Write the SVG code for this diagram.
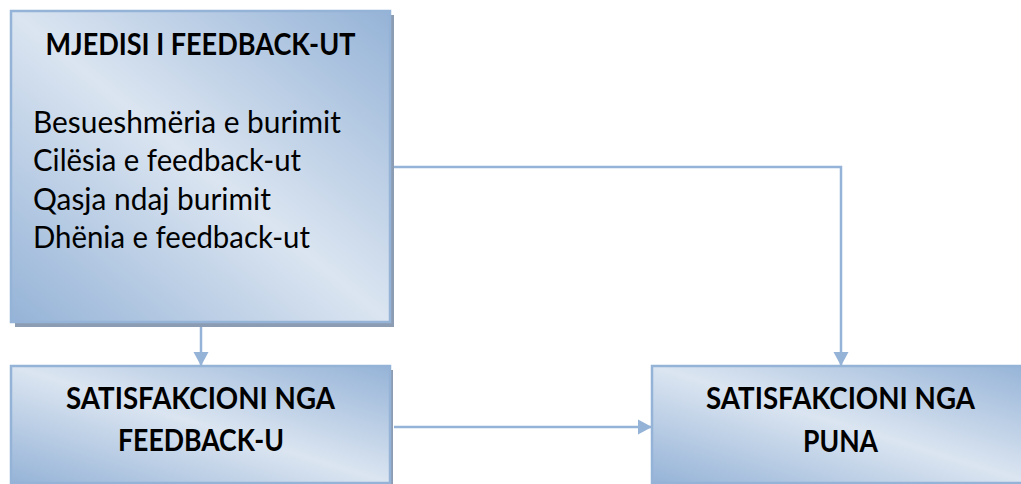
<svg xmlns="http://www.w3.org/2000/svg" width="1021" height="484" viewBox="0 0 1021 484">
  <defs>
    <linearGradient id="boxFill" x1="0" y1="1" x2="1" y2="0">
      <stop offset="0" stop-color="#95b3d7"/>
      <stop offset="0.5" stop-color="#dbe5f1"/>
      <stop offset="1" stop-color="#95b3d7"/>
    </linearGradient>
    <marker id="arrow" markerUnits="userSpaceOnUse" markerWidth="16" markerHeight="16" viewBox="0 0 14 16" refX="14" refY="8" orient="auto">
      <path d="M0,0.5 L14,8 L0,15.5 Z" fill="#95b3d7"/>
    </marker>
  </defs>
  <style>
    .shadow { fill: #8c9cb3; }
    .box { fill: url(#boxFill); stroke: #95b3d7; stroke-width: 2.5; }
    .title { font-family: Lato, "Liberation Sans", sans-serif; font-weight: bold; font-size: 30px; fill: #000; text-anchor: middle; }
    .item { font-family: Lato, "Liberation Sans", sans-serif; font-size: 31px; fill: #000; }
    .link { fill: none; stroke: #95b3d7; stroke-width: 2.5; marker-end: url(#arrow); }
  </style>

  <rect width="1021" height="484" fill="#ffffff"/>

  <!-- connectors -->
  <g id="connectors">
    <path class="link" d="M392,167 H841 V366"/>
    <path class="link" d="M201,327 V366"/>
    <path class="link" d="M394,427 H652"/>
  </g>

  <!-- feedback environment -->
  <g id="node-mjedisi">
    <rect class="shadow" x="15" y="15" width="379" height="312"/>
    <rect class="box" x="11" y="11" width="379" height="311"/>
    <text class="title" x="200.5" y="55" textLength="310" lengthAdjust="spacingAndGlyphs">MJEDISI I FEEDBACK-UT</text>
    <text class="item" x="33" y="133" textLength="308" lengthAdjust="spacingAndGlyphs">Besueshmëria e burimit</text>
    <text class="item" x="33" y="171" textLength="268" lengthAdjust="spacingAndGlyphs">Cilësia e feedback-ut</text>
    <text class="item" x="33" y="210" textLength="238" lengthAdjust="spacingAndGlyphs">Qasja ndaj burimit</text>
    <text class="item" x="33" y="248" textLength="277" lengthAdjust="spacingAndGlyphs">Dhënia e feedback-ut</text>
  </g>

  <!-- satisfaction with feedback -->
  <g id="node-satisfaksioni-feedback">
    <rect class="shadow" x="15" y="370" width="378" height="120"/>
    <rect class="box" x="11" y="366" width="379" height="117"/>
    <text class="title" x="200.5" y="409" textLength="269" lengthAdjust="spacingAndGlyphs">SATISFAKCIONI NGA</text>
    <text class="title" x="201" y="451" textLength="166" lengthAdjust="spacingAndGlyphs">FEEDBACK-U</text>
  </g>

  <!-- job satisfaction -->
  <g id="node-satisfaksioni-puna">
    <rect class="box" x="652" y="366" width="380" height="117"/>
    <text class="title" x="840.5" y="409" textLength="269" lengthAdjust="spacingAndGlyphs">SATISFAKCIONI NGA</text>
    <text class="title" x="840.5" y="452" textLength="75" lengthAdjust="spacingAndGlyphs">PUNA</text>
  </g>
</svg>
